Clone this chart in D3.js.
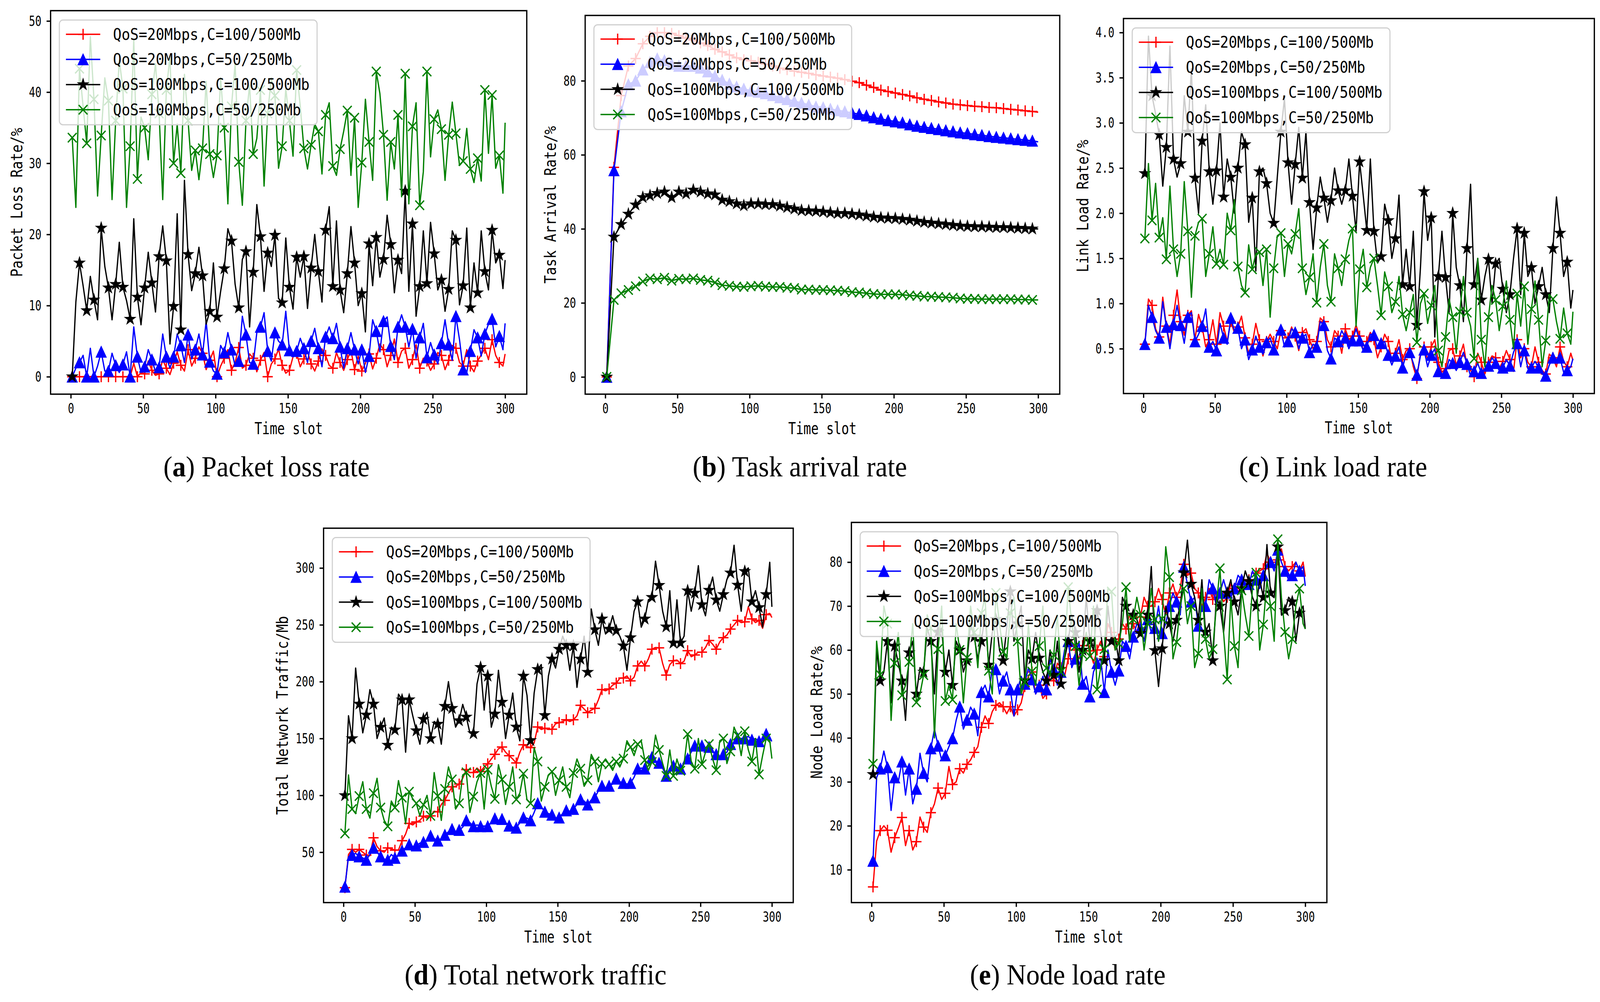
<!DOCTYPE html>
<meta charset="utf-8" />
<style>
  html,
  body {
    margin: 0;
    padding: 0;
    width: 100%;
    height: 100%;
    overflow: hidden;
    background: #fff;
  }
  #figura svg {
    display: block;
    width: 100vw;
    height: 100vh;
  }
</style>

<body>
  <div id="figura"></div>
  <script src="https://cdn.jsdelivr.net/npm/d3@7"></script>
  <script>
    // time slots: noisy panels sampled every 2.5 slots, panel (b) every 5 slots
    var slotsN = d3.range(1, 300, 2.5).concat([300]);
    var slotsB = d3.range(1, 300, 5).concat([300]);
    var xTicks = [0, 50, 100, 150, 200, 250, 300];

    var legendLabels = [
      "QoS=20Mbps,C=100/500Mb",
      "QoS=20Mbps,C=50/250Mb",
      "QoS=100Mbps,C=100/500Mb",
      "QoS=100Mbps,C=50/250Mb",
    ];

    // (a) packet loss rate
    var pkTicks = [0, 10, 20, 30, 40, 50];
    var pkRed = [
      0,0, 0,0, 0,0, 0,0, 0,0, 0,0, 0,0, 0,0, 0,1.9, 0,0.6,
      0.4,2.2, 0.9,0.2, 0.4,2.4, 1.2,0.3, 1.9,3.5, 1.6,0.8, 3.8,1.5, 2.6,4.2, 3.3,1.0, 2.3,3.6,
      0,1.5, 2.6,3.8, 0.9,2.0, 4.1,1.2, 1.6,3.2, 2.6,0.7, 2.3,3.4, 0,1.8, 2.5,3.9, 1.6,0.5,
      0.9,2.8, 3.3,1.4, 2.5,3.6, 1.8,0.8, 2.2,3.9, 3.0,1.6, 1.2,3.4, 2.0,0.9, 2.4,3.7, 1.0,2.9,
      0.8,1.9, 3.2,1.1, 2.6,4.6, 3.8,1.4, 3.0,5.3, 2.0,3.6, 4.0,1.2, 2.4,4.5, 1.2,2.6, 2.2,0.9,
      1.8,3.4, 3.0,1.0, 2.3,4.4, 4.0,2.0, 1.5,3.8, 1.5,0.7, 2.2,3.1, 4.0,2.4, 5.2,3.0, 2.0,1.5,
      3.2,
    ];
    var pkBlue = [
      0,1.2, 2.0,3.0, 0,4.0, 0,1.5, 3.5,0.8, 0.8,3.3, 1.6,0.6, 1.7,3.5, 0,7.0, 2.8,0.6,
      1.4,3.8, 2.4,0.7, 1.3,6.0, 2.8,1.2, 2.8,6.0, 4.4,2.0, 5.9,2.5, 3.8,6.0, 3.1,7.8, 2.1,0.8,
      0.4,4.4, 3.4,6.2, 3.8,1.5, 2.2,8.5, 5.9,2.0, 1.8,6.2, 7.0,9.0, 3.6,2.2, 6.2,5.0, 4.5,9.2,
      3.7,2.8, 3.6,5.4, 4.0,2.0, 5.0,6.8, 4.0,1.4, 5.6,7.0, 5.4,7.5, 4.2,1.2, 4.0,6.2, 3.8,1.8,
      3.8,0.6, 2.9,8.0, 6.4,3.5, 7.8,8.4, 4.3,2.4, 7.0,8.7, 7.0,4.2, 6.7,2.6, 5.5,7.5, 2.7,4.8,
      3.1,1.8, 4.7,8.0, 4.5,2.3, 8.5,5.2, 1.0,0.6, 3.6,6.6, 5.5,2.9, 6.0,7.4, 8.1,4.2, 5.7,3.8,
      7.5,
    ];
    var pkBlack = [
      0,10.5, 16.0,12.8, 9.3,14.1, 10.8,8.0, 20.9,15.5, 12.5,8.0, 13.0,18.9, 12.6,10.7, 8.1,22.2, 11.2,7.3,
      12.5,17.5, 13.2,9.1, 16.9,21.2, 16.3,4.6, 9.9,22.9, 6.6,27.6, 17.2,12.1, 14.5,18.2, 14.2,7.4, 9.2,16.0,
      8.4,12.0, 15.2,20.8, 19.1,13.0, 9.7,16.5, 17.6,7.0, 14.7,24.2, 19.7,12.0, 17.4,15.5, 19.9,11.0, 10.4,19.5,
      12.6,9.5, 16.8,14.0, 16.9,9.6, 15.3,20.0, 14.8,10.5, 20.6,23.9, 12.7,21.9, 12.2,9.0, 14.5,21.1, 16.0,10.0,
      11.7,6.3, 18.7,12.8, 19.6,14.0, 16.5,22.7, 18.6,11.8, 16.4,14.5, 26.1,12.0, 21.5,8.5, 12.7,20.5, 13.1,21.7,
      17.3,12.2, 13.6,9.2, 12.3,20.5, 19.2,10.1, 12.8,20.9, 9.7,16.0, 11.8,20.5, 14.8,12.2, 20.6,16.0, 17.1,12.4,
      16.4,
    ];
    var pkGreen = [
      33.6,23.8, 43.3,38.0, 32.8,47.8, 39.0,25.4, 33.9,42.0, 38.8,24.9, 36.0,44.5, 40.5,23.8, 32.4,47.4, 27.8,36.5,
      35.0,30.5, 39.7,44.0, 37.0,24.9, 40.3,45.0, 30.0,35.5, 28.6,42.5, 36.0,29.0, 31.8,27.7, 32.1,41.5, 31.3,28.0,
      31.1,42.0, 35.0,24.3, 38.0,44.0, 30.2,24.1, 36.0,41.0, 31.3,33.5, 40.3,26.8, 37.0,42.0, 39.5,29.3, 32.4,40.5,
      36.0,31.0, 43.1,38.0, 32.1,29.2, 32.6,35.5, 34.5,28.5, 36.8,38.5, 29.6,28.3, 32.0,34.5, 37.4,28.3, 36.4,23.8,
      30.1,39.0, 33.0,27.6, 42.9,39.8, 34.0,24.8, 33.0,29.2, 36.8,25.3, 42.6,24.3, 35.2,38.5, 24.1,28.8, 42.9,30.9,
      36.2,37.5, 34.8,27.6, 34.0,38.6, 34.2,29.7, 30.3,34.9, 29.2,27.3, 30.7,27.5, 40.3,31.4, 39.6,29.3, 31.1,25.8,
      35.7,
    ];

    // (b) task arrival rate
    var taTicks = [0, 20, 40, 60, 80];
    var taRed = [
      0, 56.6, 76, 84, 86, 90, 92, 93, 93, 92.8, 92.2, 91.5, 91, 90.2, 89.5, 88.5, 87.8, 87, 86.2, 85.7,
      85.4, 85, 84.5, 84, 83.4, 83, 82.6, 82.3, 82, 81.6, 81.3, 81, 80.7, 80.3, 79.9, 79.5, 78.8, 78.2, 77.5, 77.1,
      76.7, 76.3, 75.9, 75.4, 75.0, 74.7, 74.3, 74.0, 73.7, 73.5, 73.3, 73.1, 73.0, 72.8, 72.7, 72.5, 72.3, 72.1, 71.9, 71.7,
      71.5,
    ];
    var taBlue = [
      0, 55.8, 71.7, 79, 80, 83, 85, 86, 85.5, 84.5, 84, 84, 84, 83.5, 82.5, 81.3, 80.2, 79.2, 78.4, 77.8,
      77.3, 77, 76.6, 76.1, 75.5, 75, 74.5, 74, 73.5, 73, 72.8, 72.4, 72, 71.7, 71.3, 71.0, 70.6, 70.1, 69.7, 69.3,
      69.0, 68.7, 68.2, 67.8, 67.5, 67.2, 66.9, 66.6, 66.3, 66.0, 65.8, 65.5, 65.3, 65.0, 64.8, 64.6, 64.4, 64.2, 64.0, 63.8,
      63.5,
    ];
    var taBlack = [
      0, 37.8, 41.2, 44, 46.5, 48.5, 49, 49.6, 50, 48.5, 50, 49.5, 50.5, 50, 49.5, 49.2, 47.8, 47.4, 46.8, 46.3,
      46.8, 46.8, 46.6, 46.6, 46.2, 45.8, 45.4, 45, 44.9, 44.8, 44.6, 44.4, 44.2, 44.2, 44, 43.8, 43.5, 43.2, 43, 42.9,
      42.8, 42.6, 42.4, 42.1, 41.8, 41.6, 41.4, 41.2, 41.0, 40.8, 40.7, 40.6, 40.6, 40.5, 40.4, 40.4, 40.3, 40.2, 40.1, 40.0,
      40.0,
    ];
    var taGreen = [
      0, 20.8, 22.6, 23.5, 24.5, 25.8, 26.6, 26.4, 26.8, 26, 26.5, 26.4, 26.6, 26.2, 26.0, 25.5, 24.8, 24.6, 24.4, 24.3,
      24.5, 24.6, 24.4, 24.3, 24.3, 24.1, 24.0, 23.6, 23.6, 23.5, 23.5, 23.4, 23.3, 23.2, 22.9, 22.8, 22.6, 22.4, 22.3, 22.3,
      22.3, 22.2, 22.0, 21.9, 21.7, 21.7, 21.6, 21.5, 21.4, 21.2, 21.1, 21.1, 21.0, 21.0, 21.0, 21.0, 21.0, 20.9, 20.9, 20.8,
      20.8,
    ];

    // (c) link load rate
    var llTicks = [0.5, 1.0, 1.5, 2.0, 2.5, 3.0, 3.5, 4.0];
    var llRed = [
      0.55,1.05, 0.98,0.72, 0.63,1.07, 0.75,0.55, 0.87,1.15, 0.8,0.65, 0.87,0.92, 0.6,0.88, 0.74,0.52, 0.6,0.82,
      0.55,0.9, 0.75,0.58, 0.8,0.68, 0.74,0.86, 0.62,0.45, 0.55,0.78, 0.6,0.42, 0.58,0.66, 0.58,0.5, 0.7,0.64,
      0.62,0.74, 0.64,0.48, 0.68,0.72, 0.6,0.5, 0.58,0.84, 0.8,0.6, 0.52,0.7, 0.64,0.45, 0.72,0.6, 0.64,0.76,
      0.64,0.48, 0.58,0.68, 0.6,0.4, 0.52,0.66, 0.58,0.36, 0.45,0.6, 0.38,0.48, 0.5,0.3, 0.17,0.46, 0.52,0.38,
      0.52,0.6, 0.35,0.24, 0.28,0.48, 0.5,0.32, 0.42,0.55, 0.3,0.26, 0.19,0.45, 0.35,0.22, 0.35,0.42, 0.4,0.28,
      0.36,0.48, 0.38,0.25, 0.6,0.4, 0.5,0.35, 0.3,0.52, 0.35,0.26, 0.22,0.44, 0.4,0.3, 0.52,0.36, 0.3,0.45,
      0.37,
    ];
    var llBlue = [
      0.55,0.98, 0.85,0.7, 0.62,1.02, 0.74,0.5, 0.77,0.98, 0.76,0.56, 0.85,0.9, 0.58,0.66, 0.75,0.94, 0.52,0.58,
      0.48,0.78, 0.62,0.55, 0.84,0.7, 0.73,0.5, 0.6,0.38, 0.49,0.64, 0.52,0.44, 0.57,0.62, 0.49,0.68, 0.71,0.52,
      0.58,0.72, 0.68,0.5, 0.62,0.66, 0.46,0.55, 0.52,0.8, 0.76,0.48, 0.39,0.62, 0.58,0.7, 0.62,0.5, 0.59,0.72,
      0.59,0.48, 0.52,0.66, 0.65,0.5, 0.56,0.58, 0.43,0.32, 0.42,0.52, 0.29,0.44, 0.46,0.34, 0.21,0.42, 0.49,0.3,
      0.43,0.5, 0.25,0.22, 0.23,0.38, 0.34,0.26, 0.35,0.46, 0.33,0.2, 0.25,0.34, 0.23,0.28, 0.31,0.4, 0.34,0.26,
      0.29,0.38, 0.31,0.46, 0.56,0.3, 0.48,0.28, 0.29,0.36, 0.29,0.22, 0.2,0.32, 0.4,0.38, 0.4,0.24, 0.26,0.3,
      0.39,
    ];
    var llBlack = [
      2.44,3.96, 3.3,3.1, 2.87,2.3, 2.73,3.85, 2.6,2.4, 2.55,3.3, 2.9,3.6, 2.39,2.0, 2.8,3.2, 2.46,2.1,
      2.47,3.0, 2.18,2.6, 2.4,2.0, 2.5,2.9, 2.76,1.9, 2.17,1.36, 2.46,2.5, 2.33,2.0, 1.89,2.4, 2.9,3.27,
      2.56,2.1, 2.54,2.95, 2.39,2.9, 2.12,1.6, 2.06,2.4, 2.17,1.9, 2.14,2.5, 2.25,2.1, 2.25,2.6, 2.19,1.8,
      2.57,2.2, 1.81,2.6, 1.8,1.45, 1.52,2.1, 1.92,1.5, 1.72,2.2, 1.21,1.6, 1.19,1.8, 0.76,1.4, 2.24,1.7,
      1.95,0.63, 1.3,1.8, 1.29,0.9, 2.0,1.4, 1.2,0.8, 1.61,2.32, 1.21,1.5, 1.04,1.3, 1.49,1.0, 1.44,1.5,
      1.16,0.9, 1.1,1.5, 1.83,1.1, 1.78,1.3, 1.4,1.0, 1.19,1.4, 1.1,0.9, 1.61,2.18, 1.78,1.3, 1.46,0.95,
      1.15,
    ];
    var llGreen = [
      1.72,2.55, 1.92,2.33, 1.73,1.95, 1.49,2.3, 1.6,1.3, 1.55,2.35, 1.8,1.07, 1.75,1.9, 1.94,1.3, 1.55,1.85,
      1.44,1.6, 1.43,2.0, 1.81,2.15, 1.41,1.2, 1.12,1.65, 1.38,1.55, 1.57,1.2, 1.6,0.85, 1.39,1.75, 1.78,1.3,
      1.66,1.55, 1.77,2.05, 1.39,1.1, 1.29,1.55, 1.01,1.4, 1.66,1.2, 1.02,1.55, 1.39,1.2, 1.49,1.7, 1.83,0.75,
      1.38,1.6, 1.18,1.4, 1.5,1.2, 0.87,1.35, 1.19,0.9, 1.02,1.3, 0.88,0.7, 0.9,1.1, 0.57,1.0, 1.11,0.78,
      0.98,1.2, 0.48,0.3, 0.63,1.05, 0.85,0.45, 0.91,1.3, 0.9,0.75, 0.39,1.5, 0.6,0.3, 0.85,1.2, 1.04,0.7,
      0.97,1.25, 0.82,0.5, 1.11,0.75, 1.19,0.55, 0.94,1.25, 0.82,0.3, 0.59,1.1, 1.05,0.8, 0.61,0.95, 0.67,0.55,
      0.91,
    ];

    // (d) total network traffic
    var ntTicks = [50, 100, 150, 200, 250, 300];
    var ntRed = [
      18.8,48, 52.5,50, 52.5,50, 47.5,47, 62.7,55, 51.3,50, 53.8,53, 51.8,52, 60.1,66, 75.3,74,
      76.6,78, 81.7,80, 82,86, 85.5,92, 95.6,102, 107.5,108, 110,115, 122.7,120, 120.2,124, 121,125,
      127.8,132, 136.1,141, 142.5,138, 134.9,132, 128.5,138, 144.5,143, 142,146, 160.2,158, 159,158, 158.2,163,
      164,165, 166.5,165, 166.5,170, 179.2,176, 172.8,175, 176.6,184, 193.1,192, 193.6,197, 198.7,203, 203.2,205,
      200.7,204, 213.9,218, 213.9,220, 228.6,230, 229.8,216, 205.8,215, 218.4,219, 215.9,218, 227.3,222, 223.5,226,
      226,230, 236.2,233, 228.6,235, 238.7,241, 246.3,250, 253.9,252, 252.6,266, 255.2,252, 253.9,247, 259,260,
      256.4,
    ];
    var ntBlue = [
      19.6,46, 47.5,49, 46.2,45, 43.2,48, 53.8,50, 46.2,44, 43.2,48, 44.9,47, 51.3,54, 56.8,55,
      55.8,58, 58.9,60, 64.4,62, 60.1,62, 65.2,68, 70.3,68, 69.5,72, 77.9,76, 72.8,74, 72.8,73,
      72.8,76, 79.6,78, 79.1,76, 73.3,72, 71.5,76, 80.4,80, 77.9,85, 93,90, 85.5,84, 82.9,80,
      80.4,84, 86.7,86, 88,92, 96.4,95, 91.8,96, 98.1,104, 108.3,106, 108.3,110, 114.6,112, 110.8,110,
      110.8,116, 123.5,124, 123.5,126, 133.6,130, 128.5,124, 117.1,124, 126,125, 123.5,128, 132.3,138, 143.7,142,
      143.7,140, 142.5,138, 136.1,134, 136.1,138, 145,146, 150,150, 150,152, 148.8,150, 147.5,148, 153.9,150,
      147.5,
    ];
    var ntBlack = [
      99.9,170, 150,212, 180.4,155, 170.8,193, 180.4,150, 160,168, 144.2,160, 157.6,189, 184,138, 184.2,170,
      156.9,145, 167,173, 150,165, 162.7,145, 178.4,200, 176.6,160, 165.8,180, 169,155, 154.4,198, 212.6,175,
      205,160, 171.6,210, 182,150, 170.8,190, 160.2,148, 205,188, 148.3,190, 210.8,215, 170.3,205, 220,212,
      228.6,240, 232,210, 231.6,195, 220,240, 208.3,264, 245.8,232, 255.2,242, 246.3,258, 245,240, 231.6,210,
      238.7,262, 270.4,248, 255.2,272, 274.2,306, 284.8,262, 248.3,280, 234.1,272, 234.1,240, 280,262, 278,302,
      267.8,258, 280.5,292, 272,262, 276.7,290, 295.7,320, 285,262, 297,300, 270.4,280, 265.3,248, 276.7,305,
      265.8,
    ];
    var ntGreen = [
      66.5,118, 88,84, 99.4,112, 88,80, 101.9,115, 89.3,78, 72.8,95, 89.3,113, 98,75, 103.2,97,
      93,82, 91.8,100, 82,120, 99.4,78, 105.7,125, 114,88, 93,118, 120.2,85, 98.9,112, 119.7,88,
      122.7,108, 96.9,127, 114,92, 107.5,125, 96.4,102, 119.1,96, 93,142, 129.8,95, 107.5,118, 120.9,100,
      113.3,125, 107.5,98, 119.7,132, 123.5,108, 113.3,136, 129.8,112, 127.8,132, 127.3,122, 129.8,125, 132.3,148,
      142.5,135, 145,148, 131,122, 129.3,153, 140,128, 117.1,140, 117.1,132, 121.7,128, 153.9,130, 123.5,150,
      127.3,138, 145,132, 122.2,148, 150,128, 138.7,160, 152.6,135, 156.4,140, 129.8,150, 118.4,135, 150,148,
      132.3,
    ];

    // (e) node load rate
    var nlTicks = [10, 20, 30, 40, 50, 60, 70, 80];
    var nlRed = [
      6.1,16.5, 18.9,20, 19,14, 17.3,19.5, 21.9,15.5, 18.9,14.5, 16.4,22, 19.7,18.5, 23,25, 28.6,26,
      27.4,33.5, 29.4,30, 33,32, 34,35, 36.7,38, 42.4,45, 43.3,46, 47.4,48, 47.1,45.5, 47.1,45,
      46.4,48, 51.7,54, 55,50, 52,49, 50,55, 53,57, 56,54, 58,62, 60,58, 61,64,
      59.8,57, 60,62, 58.5,66, 64,60, 62.5,66, 64.8,68, 66,64, 67.5,72, 70,70, 71,74,
      71.5,68, 73,75, 72,74, 79.5,77, 77.5,74, 73,70, 72,74, 71.5,73, 73,71, 72,75,
      74,73, 75,76, 76,74, 77.5,78, 78.5,82, 80,79, 80.5,83, 79,78, 79,80, 78,80,
      76.7,
    ];
    var nlBlue = [
      12,31, 33,37, 33.3,23.5, 31,30, 34.6,27, 33,25, 28.4,36.5, 32,30, 37.6,42, 38.2,35,
      36,38, 39.9,44, 47.1,42, 44.1,47, 45.5,40.5, 50.4,52, 49.4,56, 55.6,50, 53,55, 51,45,
      51,54, 52.3,56, 53.3,50, 51.7,54, 51,58, 55.6,52, 55,60, 62,56, 58,62, 52.3,54,
      49.4,55, 57,58, 50.4,60, 55,52, 55.3,62, 60.9,58, 63,66, 65,62, 67,64, 65,70,
      63.8,66, 70,73, 71,68, 78.9,75, 71,72, 65.5,70, 70,76, 74,70, 73,76, 73,72,
      74,77, 76,74, 75,78, 76,74, 77,79, 80,78, 82.8,80, 78,76, 77,80, 78,79,
      74.6,
    ];
    var nlBlack = [
      31.7,60, 53,55, 62,48, 60.9,57, 53,44, 59.4,62, 50,56, 55,65, 62,50, 64.1,65,
      55,60, 52,62, 60,55, 57.6,66, 63,58, 62,68, 56.6,64, 67,60, 57.6,65, 73.3,62,
      66,70, 53,60, 58,64, 58.2,55, 53,60, 54.3,62, 52.3,58, 62,68, 64,55, 60,72,
      62,60, 69,64, 57.6,70, 62,63, 57.6,72, 70,62, 68,67, 63.8,64, 68,79, 59.9,51.7,
      60.3,70, 66,62, 66.8,70, 77.6,85, 75,72, 66.8,76, 64.1,66, 57.6,72, 70,64, 73,76,
      71,68, 74,78, 75.6,72, 70,76, 72,84, 73,72, 83.5,68, 69,72, 71,62, 68.4,70,
      64.8,
    ];
    var nlGreen = [
      34.1,62, 54.4,70, 66,44, 57,64, 49.7,52, 57.3,66, 48.1,50, 54.3,68, 65,40, 60.2,70,
      48.4,52, 48.7,66, 60,48, 58.2,70, 64,56, 68.4,72, 55.3,50, 73,66, 59.6,58, 68.4,72,
      62,50, 52.7,66, 55.1,52, 60.9,70, 55.9,54, 58.9,68, 55,58, 74.3,66, 60.9,52, 59,64,
      58.6,70, 51,56, 60.2,74, 73.3,60, 61.5,66, 74.3,62, 67,72, 68,60, 66,74, 67,62,
      67.1,83.5, 76.6,58, 61.8,70, 74,66, 70,56, 59.2,74, 62.5,58, 60.2,70, 78.6,64, 53.3,72,
      60.9,56, 73.6,68, 63.2,74, 77.6,60, 65.8,76, 70,62, 85.2,72, 64.1,58, 62.5,70, 74,66,
      64.8,
    ];

    var cores = ["#ff0000", "#0000ff", "#000000", "#008000"];
    var fonteEixo = "'DejaVu Sans Mono', monospace";
    var fonteLegenda = "'Liberation Serif', 'DejaVu Serif', serif";

    // marker shapes (path strings centred on 0,0)
    function estrela(R) {
      var r = R * 0.381966;
      var pts = [];
      for (var k = 0; k < 10; k++) {
        var a = -Math.PI / 2 + (k * Math.PI) / 5;
        var rr = k % 2 === 0 ? R : r;
        pts.push([rr * Math.cos(a), rr * Math.sin(a)]);
      }
      return "M" + pts.join("L") + "Z";
    }
    var marcadores = [
      { d: "M-14,0H14M0,-14V14", cheio: false },
      { d: "M0,-14L14,14L-14,14Z", cheio: true },
      { d: estrela(15), cheio: true },
      { d: "M-12,-12L12,12M-12,12L12,-12", cheio: false },
    ];

    var paineis = [
      {
        esq: 138.6, dir: 1443, topo: 27.3, base: 1008.6,
        yDom: [-2.45, 51.45], yTicks: pkTicks, fmt: d3.format("d"),
        yLabel: "Packet Loss Rate/%", yLabelDx: 78,
        slots: slotsN, passo: 2, series: [pkRed, pkBlue, pkBlack, pkGreen],
        letra: "a", titulo: "Packet loss rate", capX: 730, capY: 1219,
      },
      {
        esq: 1603, dir: 2903, topo: 39.5, base: 1008.6,
        yDom: [-4.65, 97.65], yTicks: taTicks, fmt: d3.format("d"),
        yLabel: "Task Arrival Rate/%", yLabelDx: 80,
        slots: slotsB, passo: 1, series: [taRed, taBlue, taBlack, taGreen],
        letra: "b", titulo: "Task arrival rate", capX: 2191, capY: 1219,
      },
      {
        esq: 3077.6, dir: 4367.5, topo: 47.4, base: 1007,
        yDom: [0.004, 4.155], yTicks: llTicks, fmt: d3.format(".1f"),
        yLabel: "Link Load Rate/%", yLabelDx: 96,
        slots: slotsN, passo: 2, series: [llRed, llBlue, llBlack, llGreen],
        letra: "c", titulo: "Link load rate", capX: 3652, capY: 1219,
      },
      {
        esq: 886.4, dir: 2173, topo: 1351.6, base: 2309.6,
        yDom: [5.7, 335], yTicks: ntTicks, fmt: d3.format("d"),
        yLabel: "Total Network Traffic/Mb", yLabelDx: 98,
        slots: slotsN, passo: 2, series: [ntRed, ntBlue, ntBlack, ntGreen],
        letra: "d", titulo: "Total network traffic", capX: 1467, capY: 2519,
      },
      {
        esq: 2332.3, dir: 3634.8, topo: 1336.8, base: 2309.6,
        yDom: [2.53, 89.04], yTicks: nlTicks, fmt: d3.format("d"),
        yLabel: "Node Load Rate/%", yLabelDx: 80,
        slots: slotsN, passo: 2, series: [nlRed, nlBlue, nlBlack, nlGreen],
        letra: "e", titulo: "Node load rate", capX: 2925, capY: 2519,
      },
    ];

    // drawing space is 4383 x 2564, stretched to fill the viewport
    var svg = d3
      .select("#figura")
      .append("svg")
      .attr("viewBox", "0 0 4383 2564")
      .attr("preserveAspectRatio", "none")
      .style("background", "#fff");

    function desenhaMarcador(g, k, cx, cy) {
      var m = marcadores[k];
      g.append("path")
        .attr("d", m.d)
        .attr("transform", "translate(" + cx + "," + cy + ")")
        .attr("fill", m.cheio ? cores[k] : "none")
        .attr("stroke", cores[k])
        .attr("stroke-width", m.cheio ? 2 : 3.5);
    }

    function desenhaPainel(p) {
      var g = svg.append("g");
      var x = d3.scaleLinear().domain([-13.95, 314.95]).range([p.esq, p.dir]);
      var y = d3.scaleLinear().domain(p.yDom).range([p.base, p.topo]);

      var linha = d3
        .line()
        .defined(function (d) { return d != null; })
        .x(function (d, i) { return x(p.slots[i]); })
        .y(function (d) { return y(d); });

      // series: line then its markers, in legend order
      p.series.forEach(function (s, k) {
        g.append("path")
          .datum(s)
          .attr("d", linha)
          .attr("fill", "none")
          .attr("stroke", cores[k])
          .attr("stroke-width", 3.5)
          .attr("stroke-linejoin", "round");

        var pontos = s
          .map(function (v, i) { return { t: p.slots[i], v: v, i: i }; })
          .filter(function (d) {
            return d.i % p.passo === 0 && d.i < p.slots.length - 1;
          });
        var m = marcadores[k];
        g.selectAll(null)
          .data(pontos)
          .enter()
          .append("path")
          .attr("d", m.d)
          .attr("transform", function (d) {
            return "translate(" + x(d.t) + "," + y(d.v) + ")";
          })
          .attr("fill", m.cheio ? cores[k] : "none")
          .attr("stroke", cores[k])
          .attr("stroke-width", m.cheio ? 2 : 3.5);
      });

      // axes
      var eixoX = g
        .append("g")
        .attr("transform", "translate(0," + p.base + ")")
        .call(d3.axisBottom(x).tickValues(xTicks).tickSize(11).tickPadding(12));
      var eixoY = g
        .append("g")
        .attr("transform", "translate(" + p.esq + ",0)")
        .call(
          d3.axisLeft(y).tickValues(p.yTicks).tickFormat(p.fmt).tickSize(11).tickPadding(14),
        );
      [eixoX, eixoY].forEach(function (e) {
        e.select(".domain").remove();
        e.attr("font-family", fonteEixo).attr("font-size", 36);
        e.selectAll("line").attr("stroke", "#000").attr("stroke-width", 3.5);
        e.selectAll("text")
          .attr("fill", "#000")
          .attr("textLength", function () { return this.textContent.length * 17.2; })
          .attr("lengthAdjust", "spacingAndGlyphs");
      });

      // frame
      g.append("rect")
        .attr("x", p.esq)
        .attr("y", p.topo)
        .attr("width", p.dir - p.esq)
        .attr("height", p.base - p.topo)
        .attr("fill", "none")
        .attr("stroke", "#000")
        .attr("stroke-width", 3.5);

      // axis labels
      g.append("text")
        .attr("x", (p.esq + p.dir) / 2)
        .attr("y", p.base + 102)
        .attr("text-anchor", "middle")
        .attr("font-family", fonteEixo)
        .attr("font-size", 43)
        .attr("textLength", "Time slot".length * 20.8)
        .attr("lengthAdjust", "spacingAndGlyphs")
        .text("Time slot");

      g.append("text")
        .attr(
          "transform",
          "translate(" + (p.esq - p.yLabelDx) + "," + (p.topo + p.base) / 2 + ") rotate(-90)",
        )
        .attr("text-anchor", "middle")
        .attr("font-family", fonteEixo)
        .attr("font-size", 43)
        .attr("textLength", p.yLabel.length * 21.2)
        .attr("lengthAdjust", "spacingAndGlyphs")
        .text(p.yLabel);

      // legend box
      var lx = p.esq + 24;
      var ly = p.topo + 24;
      var leg = g.append("g");
      leg.append("rect")
        .attr("x", lx)
        .attr("y", ly)
        .attr("width", 706)
        .attr("height", 268)
        .attr("rx", 10)
        .attr("fill", "#fff")
        .attr("fill-opacity", 0.8)
        .attr("stroke", "#d0d0d0")
        .attr("stroke-width", 3);

      legendLabels.forEach(function (txt, k) {
        var cy = ly + 36.5 + k * 64.3;
        leg.append("line")
          .attr("x1", lx + 18)
          .attr("x2", lx + 112)
          .attr("y1", cy)
          .attr("y2", cy)
          .attr("stroke", cores[k])
          .attr("stroke-width", 3.5);
        desenhaMarcador(leg, k, lx + 65, cy);
        leg.append("text")
          .attr("x", lx + 147)
          .attr("y", cy + 14)
          .attr("font-family", fonteEixo)
          .attr("font-size", 40)
          .attr("textLength", txt.length * 23.4)
          .attr("lengthAdjust", "spacingAndGlyphs")
          .text(txt);
      });

      // caption under the panel
      var cap = svg
        .append("text")
        .attr("x", p.capX)
        .attr("y", p.capY)
        .attr("text-anchor", "middle")
        .attr("font-family", fonteLegenda)
        .attr("font-size", 74);
      cap.append("tspan").text("(");
      cap.append("tspan").attr("font-weight", "bold").text(p.letra);
      cap.append("tspan").text(") " + p.titulo);
    }

    paineis.forEach(desenhaPainel);
  </script>
</body>
